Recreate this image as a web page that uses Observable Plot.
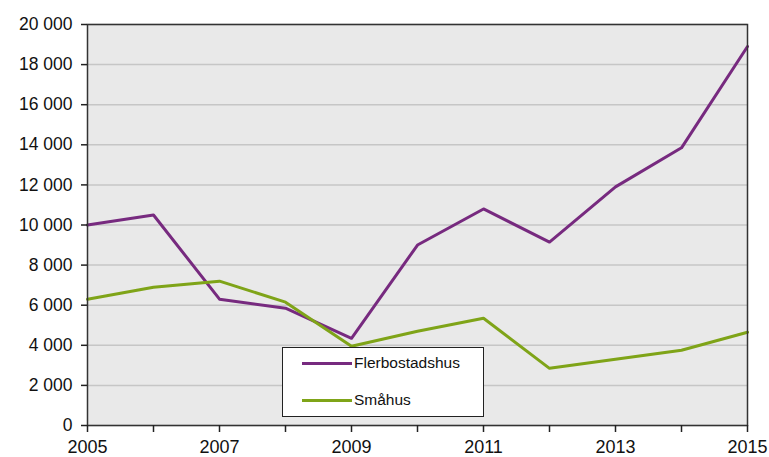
<!DOCTYPE html>
<html><head><meta charset="utf-8">
<script src="https://cdn.jsdelivr.net/npm/d3@7"></script>
<script src="https://cdn.jsdelivr.net/npm/@observablehq/plot@0.6"></script>
<style>
body{margin:0;background:#fff;font-family:"Liberation Sans",Arial,sans-serif;}
#wrap{position:relative;width:769px;height:457px;}
#legend{position:absolute;left:282px;top:347px;width:202px;height:70px;background:#fff;border:1.5px solid #222;box-sizing:border-box;font-size:15.5px;color:#111;}
.row{position:absolute;left:19px;display:flex;align-items:center;}
.sw{width:50px;height:3px;margin-right:2px;}
</style></head>
<body><div id="wrap"></div>
<script>
const years = [2005,2006,2007,2008,2009,2010,2011,2012,2013,2014,2015];
const flerbostadshus = [10000,10500,6300,5850,4350,9000,10800,9150,11900,13850,18900];
const smahus = [6300,6900,7200,6150,3950,4700,5350,2850,3300,3750,4650];
const seriesNames = ["Flerbostadshus","Småhus"];
const colors = ["#772a7f","#7fa418"];
const yTicks = [0,2000,4000,6000,8000,10000,12000,14000,16000,18000,20000];

const data = [];
years.forEach((y,i)=>{
  data.push({year:y,value:flerbostadshus[i],series:seriesNames[0]});
  data.push({year:y,value:smahus[i],series:seriesNames[1]});
});
const fmt = v => d3.format(",")(v).replace(/,/g," ");

const chart = Plot.plot({
  width:769,height:457,
  marginLeft:87,marginRight:22,marginTop:24,marginBottom:32,
  style:{fontFamily:"'Liberation Sans',Arial,sans-serif",fontSize:"17px",color:"#111",background:"#fff"},
  x:{domain:[2005,2015]},
  y:{domain:[0,20000]},
  color:{domain:seriesNames,range:colors},
  marks:[
    Plot.rect([0],{x1:2005,x2:2015,y1:0,y2:20000,fill:"#e9e9e9"}),
    Plot.gridY(yTicks,{stroke:"#c6c6c6",strokeOpacity:1,strokeWidth:1.5}),
    Plot.line(data,{x:"year",y:"value",z:"series",stroke:"series",strokeWidth:3}),
    Plot.frame({stroke:"#333",strokeWidth:1.5}),
    Plot.axisY(yTicks,{tickSize:6,tickPadding:9,tickFormat:fmt,label:null,stroke:"#222",strokeWidth:1.5,fontSize:17.5}),
    Plot.axisX(years,{tickSize:7,tickPadding:8,tickFormat:d=>d%2===1?String(d):"",label:null,stroke:"#222",strokeWidth:1.5,fontSize:18})
  ]
});
const wrap=document.getElementById("wrap");
wrap.appendChild(chart);
const leg=document.createElement("div");
leg.id="legend";
seriesNames.forEach((n,i)=>{
  const r=document.createElement("div");r.className="row";
  r.style.top=(i===0?6:43)+"px";
  r.innerHTML=`<div class="sw" style="background:${colors[i]}"></div><span>${n}</span>`;
  leg.appendChild(r);
});
wrap.appendChild(leg);
</script></body></html>
